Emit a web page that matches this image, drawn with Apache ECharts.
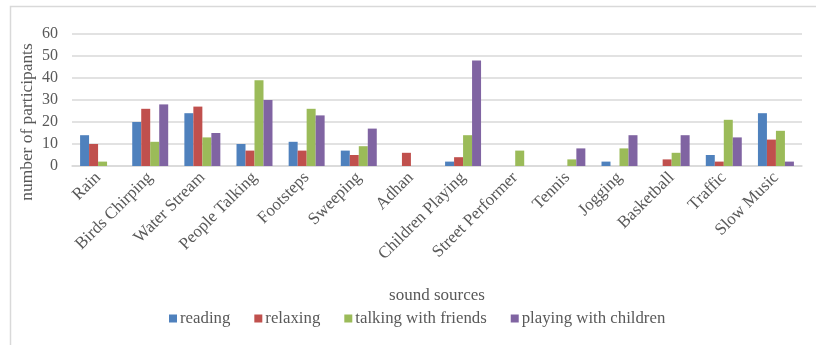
<!DOCTYPE html>
<html><head><meta charset="utf-8">
<script src="https://cdn.jsdelivr.net/npm/echarts@6/dist/echarts.min.js"></script>
<style>html,body{margin:0;padding:0;background:#fff}#c{width:816px;height:345px}</style>
</head><body><div id="c"></div>
<script>
const categories = ["Rain","Birds Chirping","Water Stream","People Talking","Footsteps","Sweeping","Adhan","Children Playing","Street Performer","Tennis","Jogging","Basketball","Traffic","Slow Music"];
const reading = [14,20,24,10,11,7,0,2,0,0,2,0,5,24];
const relaxing = [10,26,27,7,7,5,6,4,0,0,0,3,2,12];
const talkingWithFriends = [2,11,13,39,26,9,0,14,7,3,8,6,21,16];
const playingWithChildren = [0,28,15,30,23,17,0,48,0,8,14,14,13,2];
const yTicks = [0,10,20,30,40,50,60];
const seriesNames = ["reading","relaxing","talking with friends","playing with children"];
const yTitle = "number of participants";
const xTitle = "sound sources";
const colors = ["#4F81BD","#C0504D","#9BBB59","#8064A2"];
const font = "Liberation Serif";
const chart = echarts.init(document.getElementById('c'));
const dataSets = [reading, relaxing, talkingWithFriends, playingWithChildren];
chart.setOption({
  animation:false,
  graphic:[
    {type:'rect',shape:{x:10.5,y:6.5,width:900,height:500},style:{fill:'none',stroke:'#d9d9d9',lineWidth:1.5}},
    {type:'text',x:27,y:122,rotation:Math.PI/2,style:{text:yTitle,fontFamily:font,fontSize:17.4,fill:'#595959',align:'center',verticalAlign:'middle'}}
  ],
  grid:{left:72,right:14,top:34,bottom:179},
  legend:{top:305,left:164,itemWidth:8,itemHeight:8,itemGap:24,icon:'rect',
    textStyle:{fontFamily:font,fontSize:16.8,color:'#595959',padding:[0,0,0,-2]},data:seriesNames},
  xAxis:{type:'category',data:categories,name:xTitle,nameLocation:'middle',nameGap:121,
    nameTextStyle:{fontFamily:font,fontSize:17,color:'#595959'},
    axisTick:{show:false},axisLine:{lineStyle:{color:'#d9d9d9',width:1.5}},
    axisLabel:{rotate:45,interval:0,margin:9,fontFamily:font,fontSize:17,color:'#595959'}},
  yAxis:{type:'value',min:yTicks[0],max:yTicks[yTicks.length-1],interval:10,
    axisLabel:{fontFamily:font,fontSize:16,color:'#595959',margin:14},
    splitLine:{lineStyle:{color:'#d9d9d9',width:1.5}},axisLine:{show:false},axisTick:{show:false}},
  series: seriesNames.map((n,i)=>({name:n,type:'bar',data:dataSets[i],barGap:'0%',barCategoryGap:'31%',
    itemStyle:{color:colors[i]}}))
});
</script></body></html>
